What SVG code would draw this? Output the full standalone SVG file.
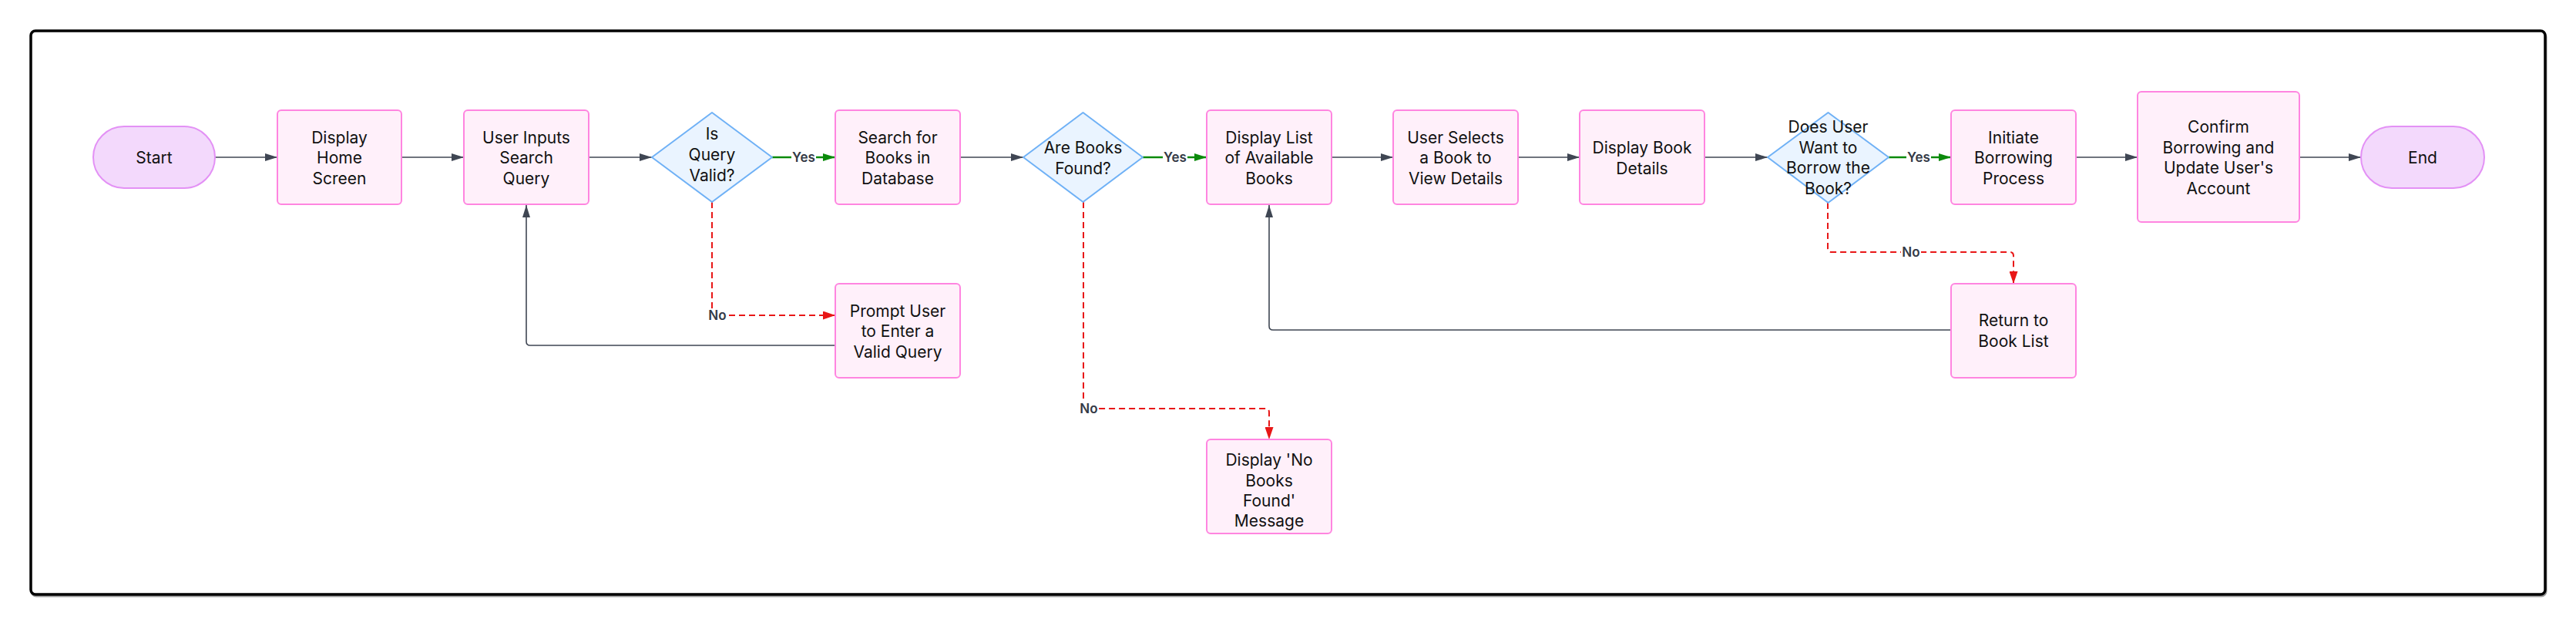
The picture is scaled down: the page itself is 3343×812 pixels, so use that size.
<svg xmlns="http://www.w3.org/2000/svg" width="3343" height="812" viewBox="0 0 3343 812">
<defs>
<style>
.frame{fill:#ffffff;stroke:#000000;stroke-width:3.5}
.proc{fill:#fff0fa;stroke:#ff85e0;stroke-width:2}
.term{fill:#f3d9fc;stroke:#e391f5;stroke-width:2}
.dec{fill:#eaf4ff;stroke:#6fb1f6;stroke-width:2;stroke-linejoin:round}
.t{font-family:Inter,"Noto Sans","Liberation Sans",sans-serif;font-size:21px;fill:#111111;text-anchor:middle}
.lbl{font-family:Inter,"Noto Sans","Liberation Sans",sans-serif;font-size:17px;font-weight:600;fill:#343a46;text-anchor:middle}
.e{fill:none;stroke:#3f4653;stroke-width:1.6}
.yes{fill:none;stroke:#0b8a0b;stroke-width:2.5}
.no{fill:none;stroke:#e81717;stroke-width:2;stroke-dasharray:8 5}
.lbg{fill:#ffffff}
</style>
<marker id="ag" viewBox="0 0 16 10" refX="16" refY="5" markerWidth="16" markerHeight="10" markerUnits="userSpaceOnUse" orient="auto"><path d="M0 0L16 5L0 10z" fill="#3f4653"/></marker>
<marker id="agr" viewBox="0 0 16 10" refX="16" refY="5" markerWidth="16" markerHeight="10" markerUnits="userSpaceOnUse" orient="auto"><path d="M0 0L16 5L0 10z" fill="#0b8a0b"/></marker>
<marker id="ar" viewBox="0 0 16 11" refX="16" refY="5.5" markerWidth="16" markerHeight="11" markerUnits="userSpaceOnUse" orient="auto"><path d="M0 0L16 5.5L0 11z" fill="#e81717"/></marker>
</defs>
<rect x="0" y="0" width="3343" height="812" fill="#ffffff"/>
<rect x="41" y="42" width="3263" height="731" rx="6" fill="none" stroke="#9a9a9a" stroke-width="3"/>
<rect class="frame" x="40" y="40" width="3263" height="731" rx="6"/>

<g id="connectors">
<path class="e" d="M279 204H360" marker-end="url(#ag)"/>
<path class="e" d="M521 204H602" marker-end="url(#ag)"/>
<path class="e" d="M764 204H846" marker-end="url(#ag)"/>
<path class="yes" d="M1002 204H1084" marker-end="url(#agr)"/>
<path class="e" d="M1246 204H1328" marker-end="url(#ag)"/>
<path class="yes" d="M1483 204H1566" marker-end="url(#agr)"/>
<path class="e" d="M1728 204H1808" marker-end="url(#ag)"/>
<path class="e" d="M1970 204H2050" marker-end="url(#ag)"/>
<path class="e" d="M2212 204H2294" marker-end="url(#ag)"/>
<path class="yes" d="M2451 204H2532" marker-end="url(#agr)"/>
<path class="e" d="M2694 204H2774" marker-end="url(#ag)"/>
<path class="e" d="M2984 204H3064" marker-end="url(#ag)"/>
<path class="no" d="M924 262V409H1084" marker-end="url(#ar)"/>
<path class="e" d="M1084 448H688Q683 448 683 443V266" marker-end="url(#ag)"/>
<path class="no" d="M1406 262V525Q1406 530 1411 530H1642Q1647 530 1647 535V570" marker-end="url(#ar)"/>
<path class="no" d="M2372 263V322Q2372 327 2377 327H2608Q2613 327 2613 332V368" marker-end="url(#ar)"/>
<path class="e" d="M2532 428H1652Q1647 428 1647 423V266" marker-end="url(#ag)"/>
<rect class="lbg" x="1027" y="195" width="32" height="18"/>
<text class="lbl" x="1043" y="210">Yes</text>
<rect class="lbg" x="1509" y="195" width="32" height="18"/>
<text class="lbl" x="1525" y="210">Yes</text>
<rect class="lbg" x="2474" y="195" width="32" height="18"/>
<text class="lbl" x="2490" y="210">Yes</text>
<rect class="lbg" x="919" y="400" width="25" height="18"/>
<text class="lbl" x="931" y="415">No</text>
<rect class="lbg" x="1400" y="521" width="25" height="18"/>
<text class="lbl" x="1413" y="536">No</text>
<rect class="lbg" x="2467" y="318" width="26" height="18"/>
<text class="lbl" x="2480" y="333">No</text>
</g>

<g id="start"><rect class="term" x="121" y="164" width="158" height="80" rx="40"/><text class="t" x="200" y="212">Start</text></g>
<g id="display-home"><rect class="proc" x="360" y="143" width="161" height="122" rx="5"/><text class="t" x="440.5" y="186">Display</text><text class="t" x="440.5" y="212">Home</text><text class="t" x="440.5" y="239">Screen</text></g>
<g id="user-inputs"><rect class="proc" x="602" y="143" width="162" height="122" rx="5"/><text class="t" x="683" y="186">User Inputs</text><text class="t" x="683" y="212">Search</text><text class="t" x="683" y="239">Query</text></g>
<g id="query-valid"><path class="dec" d="M924 146L1002 204L924 262L846 204Z"/><text class="t" x="924" y="181">Is</text><text class="t" x="924" y="208">Query</text><text class="t" x="924" y="235">Valid?</text></g>
<g id="search-books"><rect class="proc" x="1084" y="143" width="162" height="122" rx="5"/><text class="t" x="1165" y="186">Search for</text><text class="t" x="1165" y="212">Books in</text><text class="t" x="1165" y="239">Database</text></g>
<g id="books-found"><path class="dec" d="M1405.5 146L1483 204L1405.5 262L1328 204Z"/><text class="t" x="1405.5" y="199">Are Books</text><text class="t" x="1405.5" y="226">Found?</text></g>
<g id="display-list"><rect class="proc" x="1566" y="143" width="162" height="122" rx="5"/><text class="t" x="1647" y="186">Display List</text><text class="t" x="1647" y="212">of Available</text><text class="t" x="1647" y="239">Books</text></g>
<g id="user-selects"><rect class="proc" x="1808" y="143" width="162" height="122" rx="5"/><text class="t" x="1889" y="186">User Selects</text><text class="t" x="1889" y="212">a Book to</text><text class="t" x="1889" y="239">View Details</text></g>
<g id="book-details"><rect class="proc" x="2050" y="143" width="162" height="122" rx="5"/><text class="t" x="2131" y="199">Display Book</text><text class="t" x="2131" y="226">Details</text></g>
<g id="want-borrow"><path class="dec" d="M2372.5 146L2451 204L2372.5 263L2294 204Z"/><text class="t" x="2372.5" y="172">Does User</text><text class="t" x="2372.5" y="199">Want to</text><text class="t" x="2372.5" y="225">Borrow the</text><text class="t" x="2372.5" y="252">Book?</text></g>
<g id="initiate"><rect class="proc" x="2532" y="143" width="162" height="122" rx="5"/><text class="t" x="2613" y="186">Initiate</text><text class="t" x="2613" y="212">Borrowing</text><text class="t" x="2613" y="239">Process</text></g>
<g id="confirm"><rect class="proc" x="2774" y="119" width="210" height="169" rx="5"/><text class="t" x="2879" y="172">Confirm</text><text class="t" x="2879" y="199">Borrowing and</text><text class="t" x="2879" y="225">Update User's</text><text class="t" x="2879" y="252">Account</text></g>
<g id="end"><rect class="term" x="3064" y="164" width="160" height="80" rx="40"/><text class="t" x="3144" y="212">End</text></g>
<g id="prompt"><rect class="proc" x="1084" y="368" width="162" height="122" rx="5"/><text class="t" x="1165" y="411">Prompt User</text><text class="t" x="1165" y="437">to Enter a</text><text class="t" x="1165" y="464">Valid Query</text></g>
<g id="no-books"><rect class="proc" x="1566" y="570" width="162" height="122" rx="5"/><text class="t" x="1647" y="604">Display 'No</text><text class="t" x="1647" y="631">Books</text><text class="t" x="1647" y="657">Found'</text><text class="t" x="1647" y="683">Message</text></g>
<g id="return-list"><rect class="proc" x="2532" y="368" width="162" height="122" rx="5"/><text class="t" x="2613" y="423">Return to</text><text class="t" x="2613" y="450">Book List</text></g>
</svg>
